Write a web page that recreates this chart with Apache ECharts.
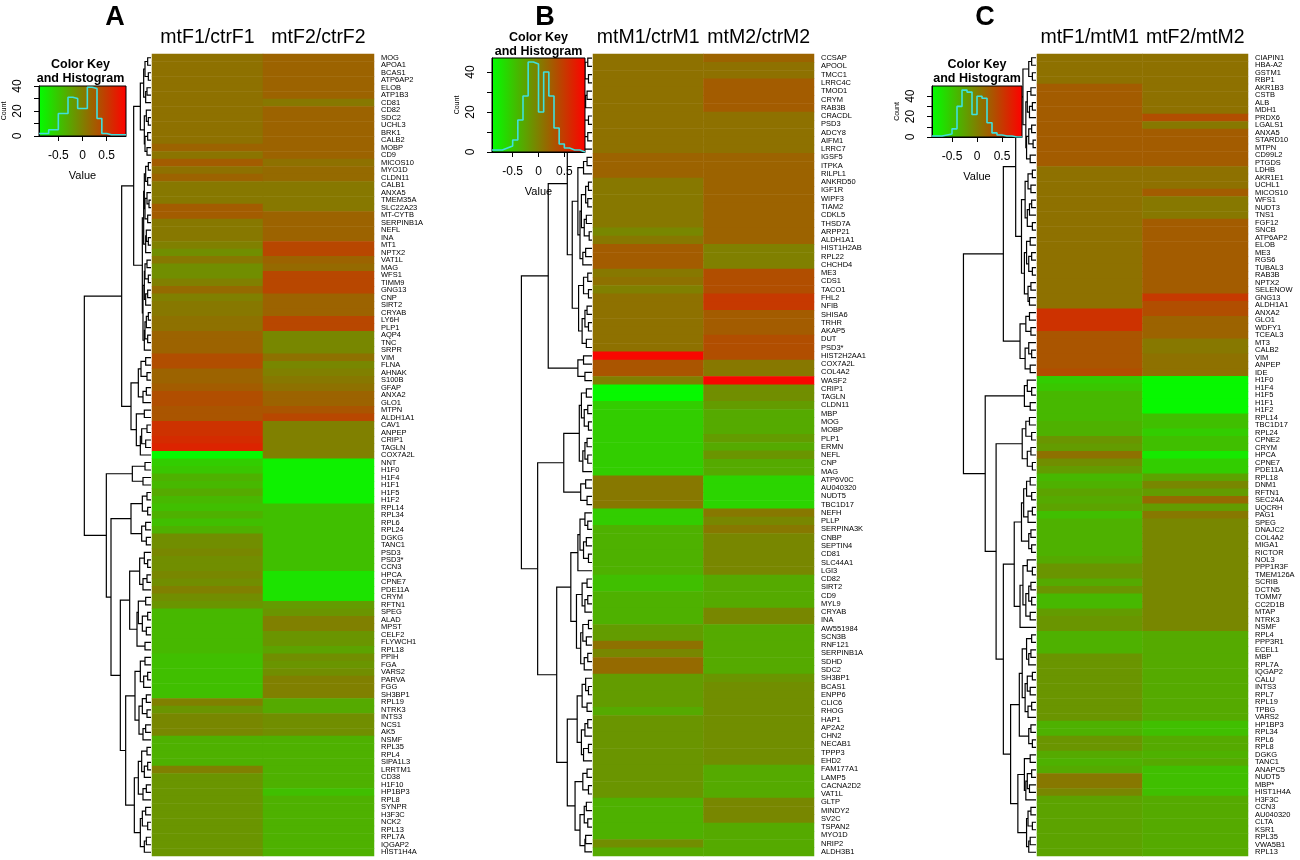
<!DOCTYPE html>
<html>
<head>
<meta charset="utf-8">
<script src="https://cdn.jsdelivr.net/npm/echarts@6/dist/echarts.min.js"></script>
<style>
  html, body { margin: 0; padding: 0; background: #fff; }
  #chart { width: 1300px; height: 860px; }
</style>
</head>
<body>
<div id="chart"></div>
<script>
// ---- data ----
const colsA = ['mtF1/ctrF1', 'mtF2/ctrF2'];
const colsB = ['mtM1/ctrM1', 'mtM2/ctrM2'];
const colsC = ['mtF1/mtM1', 'mtF2/mtM2'];

const genesA = ('MOG APOA1 BCAS1 ATP6AP2 ELOB ATP1B3 CD81 CD82 SDC2 UCHL3 BRK1 CALB2 MOBP CD9 MICOS10 MYO1D CLDN11 CALB1 ANXA5 TMEM35A ' +
  'SLC22A23 MT-CYTB SERPINB1A NEFL INA MT1 NPTX2 VAT1L MAG WFS1 TIMM9 GNG13 CNP SIRT2 CRYAB LY6H PLP1 AQP4 TNC SRPR ' +
  'VIM FLNA AHNAK S100B GFAP ANXA2 GLO1 MTPN ALDH1A1 CAV1 ANPEP CRIP1 TAGLN COX7A2L NNT H1F0 H1F4 H1F1 H1F5 H1F2 ' +
  'RPL14 RPL34 RPL6 RPL24 DGKG TANC1 PSD3 PSD3* CCN3 HPCA CPNE7 PDE11A CRYM RFTN1 SPEG ALAD MPST CELF2 FLYWCH1 RPL18 ' +
  'PPIH FGA VARS2 PARVA FGG SH3BP1 RPL19 NTRK3 INTS3 NCS1 AK5 NSMF RPL35 RPL4 SIPA1L3 LRRTM1 CD38 H1F10 HP1BP3 RPL8 ' +
  'SYNPR H3F3C NCK2 RPL13 RPL7A IQGAP2 HIST1H4A').split(' ');

const genesB = ('CCSAP APOOL TMCC1 LRRC4C TMOD1 CRYM RAB3B CRACDL PSD3 ADCY8 AIFM1 LRRC7 IGSF5 ITPKA RILPL1 ANKRD50 IGF1R WIPF3 TIAM2 CDKL5 ' +
  'THSD7A ARPP21 ALDH1A1 HIST1H2AB RPL22 CHCHD4 ME3 CDS1 TACO1 FHL2 NFIB SHISA6 TRHR AKAP5 DUT PSD3* HIST2H2AA1 COX7A2L COL4A2 WASF2 ' +
  'CRIP1 TAGLN CLDN11 MBP MOG MOBP PLP1 ERMN NEFL CNP MAG ATP6V0C AU040320 NUDT5 TBC1D17 NEFH PLLP SERPINA3K CNBP SEPTIN4 ' +
  'CD81 SLC44A1 LGI3 CD82 SIRT2 CD9 MYL9 CRYAB INA AW551984 SCN3B RNF121 SERPINB1A SDHD SDC2 SH3BP1 BCAS1 ENPP6 CLIC6 RHOG ' +
  'HAP1 AP2A2 CHN2 NECAB1 TPPP3 EHD2 FAM177A1 LAMP5 CACNA2D2 VAT1L GLTP MINDY2 SV2C TSPAN2 MYO1D NRIP2 ALDH3B1').split(' ');

const genesC = ('CIAPIN1 HBA-A2 GSTM1 RBP1 AKR1B3 CSTB ALB MDH1 PRDX6 LGALS1 ANXA5 STARD10 MTPN CD99L2 PTGDS LDHB AKR1E1 UCHL1 MICOS10 WFS1 ' +
  'NUDT3 TNS1 FGF12 SNCB ATP6AP2 ELOB ME3 RGS6 TUBAL3 RAB3B NPTX2 SELENOW GNG13 ALDH1A1 ANXA2 GLO1 WDFY1 TCEAL3 MT3 CALB2 ' +
  'VIM ANPEP IDE H1F0 H1F4 H1F5 H1F1 H1F2 RPL14 TBC1D17 RPL24 CPNE2 CRYM HPCA CPNE7 PDE11A RPL18 DNM1 RFTN1 SEC24A ' +
  'UQCRH PAG1 SPEG DNAJC2 COL4A2 MIGA1 RICTOR NOL3 PPP1R3F TMEM126A SCRIB DCTN5 TOMM7 CC2D1B MTAP NTRK3 NSMF RPL4 PPP3R1 ECEL1 ' +
  'MBP RPL7A IQGAP2 CALU INTS3 RPL7 RPL19 TPBG VARS2 HP1BP3 RPL34 RPL6 RPL8 DGKG TANC1 ANAPC5 NUDT5 MBP* HIST1H4A H3F3C ' +
  'CCN3 AU040320 CLTA KSR1 RPL35 VWA5B1 RPL13').split(' ');

// log-ratio values per row (column 1, column 2)
const valA1 = [0.1,0.1,0.1,0.1,0.1,0.1,0.1,0.1,0.1,0.1,
  0.1,0.1,0.2,0.08,0.25,0.1,0.2,0.05,0.05,0.05,
  0.25,0.25,0.05,0.05,0.05,0.0,-0.1,0.05,-0.1,-0.1,
  0.0,0.15,0.0,0.05,0.05,0.1,0.1,0.2,0.2,0.2,
  0.35,0.35,0.2,0.2,0.25,0.35,0.35,0.3,0.3,0.55,
  0.55,0.6,0.65,-0.85,-0.55,-0.5,-0.35,-0.4,-0.3,-0.4,
  -0.45,-0.35,-0.45,-0.35,-0.1,-0.1,-0.05,-0.1,-0.1,-0.05,
  -0.1,0.0,-0.1,-0.15,-0.4,-0.4,-0.4,-0.4,-0.4,-0.4,
  -0.45,-0.45,-0.45,-0.45,-0.45,-0.45,0.0,-0.15,-0.05,-0.05,
  -0.05,-0.35,-0.35,-0.35,-0.35,0.0,-0.15,-0.15,-0.15,-0.15,
  -0.15,-0.15,-0.15,-0.15,-0.15,-0.15,-0.15];
const valA2 = [0.2,0.2,0.2,0.2,0.2,0.2,0.05,0.2,0.2,0.2,
  0.2,0.2,0.2,0.2,0.1,0.15,0.15,0.05,0.05,0.05,
  0.05,0.2,0.2,0.2,0.2,0.4,0.4,0.2,0.15,0.4,
  0.4,0.4,0.2,0.2,0.2,0.4,0.4,-0.05,-0.05,-0.05,
  0.1,-0.05,0.0,0.05,0.1,0.2,0.2,0.3,0.4,0.0,
  0.0,0.0,0.0,0.0,-0.8,-0.8,-0.8,-0.8,-0.8,-0.8,
  -0.45,-0.45,-0.45,-0.45,-0.45,-0.45,-0.45,-0.45,-0.45,-0.7,
  -0.7,-0.7,-0.7,-0.2,-0.15,0.0,0.0,-0.15,-0.15,-0.25,
  -0.1,-0.15,-0.1,0.0,0.0,0.0,-0.3,-0.3,-0.1,-0.1,
  -0.1,-0.35,-0.35,-0.35,-0.35,-0.35,-0.35,-0.35,-0.45,-0.35,
  -0.35,-0.35,-0.35,-0.35,-0.35,-0.35,-0.35];

const valB1 = [0.1,0.1,0.1,0.1,0.1,0.1,0.1,0.1,0.1,0.1,
  0.1,0.1,0.2,0.2,0.2,0.05,0.05,0.05,0.05,0.05,
  0.05,-0.05,0.05,0.25,0.25,0.25,0.05,0.1,0.0,0.1,
  0.1,0.1,0.1,0.1,0.1,0.1,0.85,0.3,0.3,0.0,
  -0.85,-0.85,-0.55,-0.55,-0.55,-0.55,-0.55,-0.55,-0.55,-0.55,
  -0.55,0.05,0.05,0.05,0.05,-0.55,-0.55,-0.35,-0.35,-0.35,
  -0.35,-0.35,-0.35,-0.45,-0.45,-0.35,-0.35,-0.35,-0.35,-0.2,
  -0.2,0.1,-0.05,0.15,0.15,-0.2,-0.2,-0.2,-0.2,-0.3,
  -0.15,-0.15,-0.15,-0.15,-0.15,-0.15,-0.15,-0.15,-0.15,-0.15,
  -0.35,-0.35,-0.35,-0.35,-0.35,-0.1,-0.3];
const valB2 = [0.2,0.1,0.1,0.25,0.25,0.25,0.25,0.1,0.1,0.1,
  0.1,0.1,0.2,0.2,0.2,0.2,0.2,0.2,0.2,0.2,
  0.2,0.2,0.2,0.0,0.0,0.0,0.35,0.35,0.35,0.5,
  0.5,0.25,0.25,0.25,0.35,0.35,0.35,0.05,0.05,0.85,
  -0.1,-0.1,-0.2,-0.3,-0.3,-0.3,-0.2,-0.3,-0.15,-0.3,
  -0.3,-0.6,-0.6,-0.6,-0.6,0.05,-0.05,0.05,-0.05,-0.05,
  -0.05,-0.05,-0.05,-0.3,-0.3,-0.3,-0.3,-0.05,-0.05,-0.3,
  -0.3,-0.3,-0.3,-0.3,-0.3,-0.15,-0.1,-0.1,-0.1,-0.1,
  -0.1,-0.1,-0.1,-0.1,-0.1,-0.1,-0.3,-0.3,-0.3,-0.3,
  -0.05,-0.05,-0.05,-0.3,-0.3,-0.3,-0.3];

const valC1 = [0.1,0.1,0.1,0.1,0.25,0.25,0.25,0.25,0.25,0.25,
  0.25,0.25,0.25,0.25,0.25,0.1,0.1,0.1,0.1,0.1,
  0.1,0.1,0.1,0.1,0.1,0.1,0.1,0.1,0.1,0.1,
  0.1,0.1,0.1,0.1,0.55,0.55,0.55,0.3,0.3,0.3,
  0.3,0.3,0.35,-0.55,-0.5,-0.4,-0.4,-0.4,-0.4,-0.35,
  -0.35,-0.15,-0.2,0.1,-0.1,-0.2,-0.4,-0.35,-0.25,-0.3,
  -0.25,-0.45,-0.35,-0.35,-0.35,-0.35,-0.35,-0.3,-0.15,-0.15,
  -0.3,-0.15,-0.4,-0.4,-0.2,-0.15,-0.15,-0.35,-0.35,-0.35,
  -0.15,-0.15,-0.15,-0.15,-0.15,-0.15,-0.15,-0.15,-0.15,-0.35,
  -0.35,-0.15,-0.15,-0.3,-0.35,-0.3,0.05,0.05,-0.05,-0.25,
  -0.25,-0.25,-0.25,-0.25,-0.25,-0.25,-0.25];
const valC2 = [0.1,0.1,0.1,0.1,0.1,0.1,0.1,0.1,0.35,0.05,
  0.25,0.25,0.25,0.25,0.25,0.1,0.1,0.1,0.25,0.05,
  0.05,0.05,0.25,0.25,0.25,0.25,0.25,0.25,0.25,0.25,
  0.25,0.25,0.5,0.35,0.35,0.2,0.2,0.2,0.05,0.05,
  0.1,0.1,0.1,-0.85,-0.85,-0.85,-0.85,-0.85,-0.45,-0.45,
  -0.55,-0.45,-0.45,-0.75,-0.55,-0.55,-0.25,-0.05,-0.2,0.15,
  -0.2,0.05,-0.05,-0.05,-0.05,-0.05,-0.05,-0.05,-0.05,-0.05,
  -0.05,-0.05,-0.05,-0.05,-0.05,-0.05,-0.05,-0.3,-0.3,-0.3,
  -0.3,-0.3,-0.3,-0.3,-0.3,-0.3,-0.3,-0.3,-0.3,-0.45,
  -0.45,-0.3,-0.3,-0.35,-0.3,-0.45,-0.45,-0.45,-0.45,-0.3,
  -0.3,-0.3,-0.3,-0.3,-0.3,-0.3,-0.3];

// dendrogram: join height between neighbouring rows (row i and row i+1)
const gapsA = [0.5,0.9,0.4,1.1,0.6,0.8, 1.6, 0.7,0.4,1.0,0.5,0.9,0.6, 2.6,
  0.4,0.8,0.5,1.0,0.6,0.3,0.9,0.5,1.1,0.7,0.4,0.8, 1.3,
  0.6,0.9,0.4,1.0,0.5,0.8,1.2,0.4,0.7,0.9,0.5,1.0, 4.4,
  0.8,1.5,0.6,1.9,0.7,1.2, 3.0, 1.0,2.2,0.6,1.4,0.8,1.6, 10,
  0.9,2.8,1.2, 6.7,
  0.6,1.3,0.5,3.0,0.8,1.4,0.7, 6.0,
  1.0,0.5,1.7,0.6,1.2,3.2,0.8,1.9,0.5,1.3,0.7,2.1,0.9, 4.6,
  0.9,1.6,0.5,1.1,2.4,0.7,1.3,0.6,1.8,0.8,1.2, 3.8,
  0.6,1.4,0.5,1.0,1.9,0.7,1.2, 2.5, 0.8,1.3,0.5,1.6,0.7,1.0];
const gapsB = [0.6,1.0,0.5,1.4,0.7,0.9,1.8,0.5,1.1,0.6,1.3, 3.5,
  0.7,1.2,2.0,0.5,0.9,0.6,1.5,0.8,1.1,0.4,1.7,0.9,1.3, 2.8,
  0.6,1.2,0.5,1.9,0.7,1.0,0.5,1.4,0.8, 6.2, 1.2,2.0,1.0, 10,
  0.8,1.5,0.6,1.1,0.5,1.8,0.7,1.0,0.6,1.3, 4.0, 0.9,1.6,0.7, 7.7,
  1.0,0.6,1.7,0.8,1.2,0.5,2.0, 3.0, 0.7,1.4,0.6,1.0,2.2,0.5,1.3,0.8,1.6,0.6,1.1, 5.0,
  0.9,0.5,1.4,0.7,2.1,0.6,1.0,1.5,0.5,1.2, 3.5, 0.7,1.3,0.5,2.4,0.8,1.1,0.6,1.7,0.9,1.0];
const gapsC = [0.6,1.0,0.5, 1.8, 0.7,1.2,0.5,0.9,1.4,0.6,1.0,0.4,1.3,0.8, 2.8,
  0.5,1.1,0.7,1.5,0.6,0.9,1.2,0.5, 2.0, 0.8,1.3,0.6,1.0,0.5,1.6,0.7,1.1,0.9, 4.5,
  0.9,1.4,0.7, 2.2, 1.0,0.6,1.5,0.8, 10,
  1.2,0.6,1.6,0.8, 7.0, 0.9,1.4,0.6,1.9,0.7,1.2,0.5, 5.5,
  0.8,1.3,0.6,1.7,0.5,1.1,2.0,0.7,1.0,0.6, 3.0, 1.2,0.5,1.8,0.7,1.0,0.6,1.4,0.8,2.2, 4.5,
  0.6,1.3,0.7,1.0,1.9,0.5,1.2,0.8,1.5,0.6,1.1,2.3,0.7,1.0,0.5, 3.5,
  0.8,1.6,0.6,1.2,0.9,1.4, 2.5, 0.7,1.1,0.5,1.3,0.8,1.0];

// colour key histograms (counts per 0.1 bin)
const histEdges = [-0.9,-0.8,-0.7,-0.6,-0.5,-0.4,-0.3,-0.2,-0.1,0,0.1,0.2,0.3,0.4,0.5,0.6,0.7,0.8,0.9];
const histA = [2,2,5,5,18,18,31,30,22,22,39,38,14,2,1,1,1,1];
const histB = [1,1,2,3,6,16,28,45,44,20,40,28,12,4,2,1,1,0];
const histC = [1,1,2,3,8,30,46,44,22,40,38,14,4,2,1,1,0,0];
const keyTicks = [-0.5, 0, 0.5];
const countLabels = [0, 20, 40];
const countTicks = [0, 10, 20, 30, 40];

// ---- layout ----
const FONT = '"Liberation Sans", Arial, Helvetica, sans-serif';
const panels = [
  { letter: 'A', letterX: 115, cols: colsA, genes: genesA, v1: valA1, v2: valA2, gaps: gapsA, hist: histA, countMax: 40,
    dendro: { left: 83, width: 68 }, heat: { left: 152, width: 222 },
    key: { left: 35, top: 86, width: 91, height: 50 }, keyTitleY: 65 },
  { letter: 'B', letterX: 545, cols: colsB, genes: genesB, v1: valB1, v2: valB2, gaps: gapsB, hist: histB, countMax: 47,
    dendro: { left: 520, width: 72 }, heat: { left: 593, width: 221 },
    key: { left: 492, top: 58, width: 93, height: 94 }, keyTitleY: 38 },
  { letter: 'C', letterX: 985, cols: colsC, genes: genesC, v1: valC1, v2: valC2, gaps: gapsC, hist: histC, countMax: 50,
    dendro: { left: 962, width: 74 }, heat: { left: 1037, width: 211 },
    key: { left: 932, top: 86, width: 90, height: 51 }, keyTitleY: 65 }
];
const TOP = 54, HEIGHT = 802;

// turn neighbour join heights into dendrogram elbows
function buildTree(gaps, n) {
  const segs = [];
  function rec(lo, hi) {
    if (lo === hi) return { h: 0, y: lo };
    let k = lo;
    for (let i = lo; i < hi; i++) if (gaps[i] > gaps[k]) k = i;
    const a = rec(lo, k), b = rec(k + 1, hi);
    const node = { h: gaps[k], y: (a.y + b.y) / 2 };
    segs.push({ coords: [[a.h, a.y], [node.h, a.y], [node.h, b.y], [b.h, b.y]] });
    return node;
  }
  rec(0, n - 1);
  return segs;
}

const grid = [], xAxis = [], yAxis = [], series = [], graphic = [], heatIdx = [];

panels.forEach((p, pi) => {
  const n = p.genes.length;
  const gD = pi * 3, gH = pi * 3 + 1, gK = pi * 3 + 2;
  const rootH = Math.max.apply(null, p.gaps);

  // dendrogram
  grid.push({ left: p.dendro.left, top: TOP, width: p.dendro.width, height: HEIGHT });
  xAxis.push({ gridIndex: gD, type: 'value', min: 0, max: rootH * 1.02, inverse: true, show: false });
  yAxis.push({ gridIndex: gD, type: 'value', min: -0.5, max: n - 0.5, inverse: true, show: false });
  series.push({
    type: 'lines', coordinateSystem: 'cartesian2d', xAxisIndex: gD, yAxisIndex: gD,
    polyline: true, silent: true, z: 1, data: buildTree(p.gaps, n),
    lineStyle: { color: '#000', width: 1.2, opacity: 1 }
  });

  // heatmap
  grid.push({ left: p.heat.left, top: TOP, width: p.heat.width, height: HEIGHT });
  xAxis.push({
    gridIndex: gH, type: 'category', data: p.cols, position: 'top',
    axisLine: { show: false }, axisTick: { show: false },
    axisLabel: { interval: 0, fontSize: 19.5, color: '#000', fontFamily: FONT, margin: 6, hideOverlap: false }
  });
  yAxis.push({
    gridIndex: gH, type: 'category', data: p.genes, inverse: true, position: 'right',
    axisLine: { show: false }, axisTick: { show: false },
    axisLabel: { interval: 0, fontSize: 7.5, color: '#000', fontFamily: FONT, margin: 7, hideOverlap: false }
  });
  const cells = [];
  p.genes.forEach((g, i) => { cells.push([0, i, p.v1[i]]); cells.push([1, i, p.v2[i]]); });
  heatIdx.push(series.length);
  series.push({ type: 'heatmap', xAxisIndex: gH, yAxisIndex: gH, data: cells, silent: true, progressive: 0 });

  // colour key + histogram (drawn above the dendrogram it overlaps)
  grid.push({
    left: p.key.left, top: p.key.top, width: p.key.width, height: p.key.height, show: true, z: 5,
    borderColor: '#000', borderWidth: 1,
    backgroundColor: new echarts.graphic.LinearGradient(0, 0, 1, 0, [
      { offset: 0, color: '#00ff00' }, { offset: 1, color: '#ff0000' }
    ])
  });
  xAxis.push({
    gridIndex: gK, type: 'value', min: -0.9, max: 0.9, position: 'bottom', z: 6,
    axisLine: { show: true, onZero: false, lineStyle: { color: '#000' } },
    axisTick: { show: true, customValues: keyTicks, length: 5, lineStyle: { color: '#000' } },
    axisLabel: { customValues: keyTicks, fontSize: 12, color: '#000', fontFamily: FONT, margin: 14 },
    splitLine: { show: false },
    name: 'Value', nameLocation: 'middle', nameGap: 34,
    nameTextStyle: { fontSize: 11, color: '#000', fontFamily: FONT }
  });
  yAxis.push({
    gridIndex: gK, type: 'value', min: 0, max: p.countMax, position: 'left', z: 6,
    axisLine: { show: true, onZero: false, lineStyle: { color: '#000' } },
    axisTick: { show: true, customValues: countTicks, length: 5, lineStyle: { color: '#000' } },
    axisLabel: { customValues: countLabels, rotate: 90, fontSize: 12, color: '#000', fontFamily: FONT, margin: 15 },
    splitLine: { show: false },
    name: 'Count', nameLocation: 'middle', nameGap: 31, nameRotate: 90,
    nameTextStyle: { fontSize: 7, color: '#000', fontFamily: FONT }
  });
  const steps = p.hist.map((c, i) => [histEdges[i], c]);
  steps.push([histEdges[histEdges.length - 1], p.hist[p.hist.length - 1]]);
  series.push({
    type: 'line', xAxisIndex: gK, yAxisIndex: gK, data: steps, step: 'end', symbol: 'none', silent: true, z: 7,
    lineStyle: { color: '#3fe0dc', width: 1.6 }
  });

  // key title and panel letter
  const cx = p.key.left + p.key.width / 2;
  graphic.push({ type: 'text', x: cx, y: p.keyTitleY, z: 8,
    style: { text: 'Color Key', font: 'bold 12.5px ' + FONT, fill: '#000', textAlign: 'center', textVerticalAlign: 'middle', align: 'center', verticalAlign: 'middle' } });
  graphic.push({ type: 'text', x: cx, y: p.keyTitleY + 14, z: 8,
    style: { text: 'and Histogram', font: 'bold 12.5px ' + FONT, fill: '#000', textAlign: 'center', textVerticalAlign: 'middle', align: 'center', verticalAlign: 'middle' } });
  graphic.push({ type: 'text', x: p.letterX, y: 18,
    style: { text: p.letter, font: 'bold 27px ' + FONT, fill: '#000', textAlign: 'center', textVerticalAlign: 'middle', align: 'center', verticalAlign: 'middle' } });
});

const chart = echarts.init(document.getElementById('chart'));
chart.setOption({
  backgroundColor: '#fff',
  animation: false,
  grid: grid,
  xAxis: xAxis,
  yAxis: yAxis,
  visualMap: {
    show: false, type: 'continuous', min: -0.9, max: 0.9, seriesIndex: heatIdx, dimension: 2,
    inRange: { color: ['#00ff00', '#ff0000'] }
  },
  graphic: graphic,
  series: series
});
</script>
</body>
</html>
